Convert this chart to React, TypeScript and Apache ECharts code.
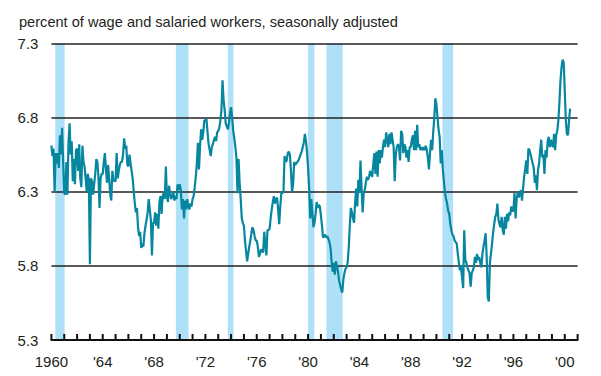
import React, { useEffect, useRef } from "react";
import * as echarts from "echarts";

// Monthly values, percent of wage and salaried workers (seasonally adjusted)
const rate1960s = [
  6.61, 6.54, 6.59, 6.30, 6.56, 6.49, 6.56, 6.46, 6.68, 6.55, 6.73, 6.50,
  6.29, 6.28, 6.50, 6.28, 6.64, 6.76, 6.55, 6.64, 6.37, 6.52, 6.35, 6.58,
  6.59, 6.44, 6.62, 6.39, 6.33, 6.61, 6.50, 6.47, 6.39, 6.30, 6.42, 6.38,
  5.81, 6.39, 6.37, 6.28, 6.35, 6.42, 6.52, 6.50, 6.40, 6.19, 6.39, 6.42,
  6.42, 6.50, 6.56, 6.45, 6.36, 6.48, 6.39, 6.28, 6.24, 6.44, 6.38, 6.37,
  6.37, 6.56, 6.39, 6.44, 6.48, 6.50, 6.50, 6.55, 6.66, 6.59, 6.61, 6.48,
  6.47, 6.55, 6.49, 6.44, 6.39, 6.30, 6.22, 6.16, 6.19, 6.06, 6.00, 6.03,
  5.92, 5.95, 5.93, 6.02, 6.07, 6.11, 6.16, 6.25, 6.18, 6.11, 5.87, 6.09,
  6.09, 6.16, 6.07, 6.15, 6.05, 6.23, 6.27, 6.15, 6.27, 6.29, 6.25, 6.47,
  6.27, 6.23, 6.34, 6.29, 6.25, 6.27, 6.30, 6.24, 6.27, 6.25, 6.35, 6.31,
];
const rate1970s = [
  6.35, 6.31, 6.18, 6.25, 6.12, 6.24, 6.18, 6.25, 6.20, 6.18, 6.22, 6.20,
  6.25, 6.27, 6.33, 6.40, 6.49, 6.63, 6.45, 6.61, 6.72, 6.65, 6.70, 6.78,
  6.78, 6.79, 6.70, 6.62, 6.58, 6.54, 6.60, 6.62, 6.65, 6.67, 6.64, 6.70,
  6.71, 6.73, 6.78, 6.85, 7.05, 6.92, 6.85, 6.76, 6.74, 6.72, 6.76, 6.83,
  6.87, 6.80, 6.71, 6.66, 6.60, 6.53, 6.29, 6.52, 6.36, 6.25, 6.12, 6.09,
  6.07, 5.97, 5.90, 5.83, 5.88, 5.93, 5.97, 6.02, 6.06, 6.04, 6.00, 5.97,
  5.97, 5.93, 5.86, 5.88, 5.91, 5.90, 5.89, 6.03, 5.95, 5.87, 6.04, 6.04,
  6.05, 6.12, 6.18, 6.23, 6.27, 6.22, 6.25, 6.26, 6.18, 6.08, 6.20, 6.29,
  6.29, 6.30, 6.54, 6.50, 6.51, 6.56, 6.57, 6.55, 6.44, 6.30, 6.35, 6.50,
  6.48, 6.49, 6.50, 6.51, 6.53, 6.55, 6.57, 6.60, 6.63, 6.69, 6.64, 6.57,
];
const rate1980s = [
  6.46, 6.32, 6.12, 6.25, 6.16, 6.06, 6.09, 6.15, 6.23, 6.19, 6.21, 6.20,
  6.14, 6.07, 5.99, 6.00, 6.01, 5.99, 6.00, 5.98, 5.96, 5.92, 5.83, 5.76,
  5.82, 5.74, 5.83, 5.80, 5.76, 5.70, 5.67, 5.64, 5.62, 5.71, 5.75, 5.78,
  5.79, 5.82, 5.92, 6.07, 6.19, 6.16, 6.12, 6.09, 6.23, 6.32, 6.20, 6.38,
  6.29, 6.51, 6.33, 6.16, 6.29, 6.31, 6.36, 6.40, 6.38, 6.40, 6.44, 6.42,
  6.40, 6.49, 6.56, 6.42, 6.57, 6.40, 6.58, 6.49, 6.58, 6.53, 6.60, 6.65,
  6.60, 6.70, 6.65, 6.60, 6.69, 6.62, 6.70, 6.65, 6.60, 6.37, 6.55, 6.60,
  6.62, 6.60, 6.51, 6.71, 6.69, 6.56, 6.62, 6.60, 6.53, 6.58, 6.50, 6.60,
  6.60, 6.65, 6.68, 6.58, 6.71, 6.58, 6.75, 6.60, 6.62, 6.58, 6.60, 6.58,
  6.60, 6.58, 6.61, 6.58, 6.53, 6.45, 6.56, 6.65, 6.58, 6.70, 6.80, 6.93,
];
const rate1990s = [
  6.89, 6.80, 6.72, 6.67, 6.49, 6.58, 6.45, 6.37, 6.29, 6.25, 6.22, 6.17,
  6.15, 6.08, 6.04, 6.01, 6.00, 5.97, 5.96, 5.95, 5.88, 5.82, 5.77, 5.80,
  5.72, 5.65, 6.04, 5.84, 5.82, 5.79, 5.77, 5.75, 5.66, 5.75, 5.77, 5.79,
  5.86, 5.82, 5.88, 5.84, 5.86, 5.82, 5.79, 5.88, 5.93, 5.97, 6.02, 5.86,
  5.59, 5.56, 5.82, 5.88, 5.95, 6.02, 6.08, 6.13, 6.15, 6.22, 6.11, 6.08,
  6.06, 6.13, 6.04, 6.01, 6.13, 6.05, 6.15, 6.10, 6.16, 6.14, 6.20, 6.17,
  6.17, 6.29, 6.12, 6.25, 6.29, 6.26, 6.29, 6.31, 6.24, 6.32, 6.40, 6.45,
  6.51, 6.42, 6.59, 6.58, 6.55, 6.52, 6.49, 6.46, 6.36, 6.41, 6.31, 6.45,
  6.49, 6.58, 6.65, 6.53, 6.55, 6.42, 6.58, 6.53, 6.64, 6.67, 6.60, 6.65,
  6.62, 6.60, 6.69, 6.58, 6.68, 6.71, 6.78, 6.90, 7.05, 7.14, 7.19, 7.17,
];
const rate2000 = [6.98, 6.78, 6.69, 6.68, 6.78, 6.86];

// Recession periods (decimal years)
const recessionStart = [1960.3, 1969.7, 1973.74, 1980.0, 1981.43, 1990.47];
const recessionEnd = [1961.03, 1970.69, 1974.18, 1980.49, 1982.7, 1991.3];

const firstYear = 1960;
const lastYear = 2001;
const yMin = 5.3;
const yMax = 7.3;
const yStep = 0.5;
const titleText = "percent of wage and salaried workers, seasonally adjusted";

const FONT = "'Liberation Sans', Arial, Helvetica, sans-serif";

export default function App() {
  const ref = useRef<HTMLDivElement>(null);
  useEffect(() => {
    if (!ref.current) return;
    const chart = echarts.init(ref.current, null, { renderer: "svg" });
    const values = [...rate1960s, ...rate1970s, ...rate1980s, ...rate1990s, ...rate2000];
    const lineData = values.map((v, i) => [firstYear + i / 12, v]);
    const recData = recessionStart.map((s, i) => [s, recessionEnd[i]]);
    const tickYears: number[][] = [];
    for (let y = firstYear; y <= lastYear; y++) tickYears.push([y, yMin]);
    chart.setOption({
      animation: false,
      title: {
        text: titleText,
        left: 14,
        top: 9,
        textStyle: { fontFamily: FONT, fontSize: 14.6, fontWeight: "normal", color: "#231f20" },
      },
      grid: { left: 51.4, right: 23.4, top: 43.3, bottom: 36 },
      xAxis: {
        type: "value",
        min: firstYear,
        max: lastYear,
        interval: 1,
        z: 5,
        axisLine: { show: true, onZero: false, lineStyle: { color: "#111", width: 2 } },
        axisTick: { show: false },
        axisLabel: {
          margin: 14,
          fontSize: 15,
          fontFamily: FONT,
          color: "#231f20",
          formatter: (v: number) => {
            const y = Math.round(v);
            if (y === firstYear) return String(y);
            if (y % 4 === 0) return "'" + String(y).slice(2);
            return "";
          },
        },
        splitLine: { show: false },
      },
      yAxis: {
        type: "value",
        min: yMin,
        max: yMax,
        interval: yStep,
        z: 4,
        axisLine: { show: false },
        axisTick: { show: false },
        axisLabel: {
          margin: 13,
          fontSize: 15,
          fontFamily: FONT,
          color: "#231f20",
          formatter: (v: number) => v.toFixed(1),
        },
        splitLine: { show: true, lineStyle: { color: "#222", width: 1.6 } },
      },
      series: [
        {
          type: "custom",
          z: 1,
          silent: true,
          data: recData,
          encode: { x: [0, 1] },
          renderItem: (params: any, api: any) => {
            const p0 = api.coord([api.value(0), yMax]);
            const p1 = api.coord([api.value(1), yMin]);
            return {
              type: "rect",
              shape: { x: p0[0], y: p0[1], width: p1[0] - p0[0], height: p1[1] - p0[1] },
              style: { fill: "#aee0f8" },
            };
          },
        },
        {
          type: "custom",
          z: 7,
          silent: true,
          data: tickYears,
          encode: { x: 0, y: 1 },
          renderItem: (params: any, api: any) => {
            const p = api.coord([api.value(0), api.value(1)]);
            return {
              type: "line",
              shape: { x1: p[0], y1: p[1], x2: p[0], y2: p[1] - 6 },
              style: { stroke: "#111", lineWidth: 2 },
            };
          },
        },
        {
          type: "line",
          z: 6,
          data: lineData,
          symbol: "none",
          showSymbol: false,
          lineStyle: { color: "#07869f", width: 2.2 },
        },
      ],
    });
    return () => chart.dispose();
  }, []);
  return (
    <div
      ref={ref}
      style={{ position: "fixed", left: 0, top: 0, width: 601, height: 376, background: "#fff" }}
    />
  );
}
